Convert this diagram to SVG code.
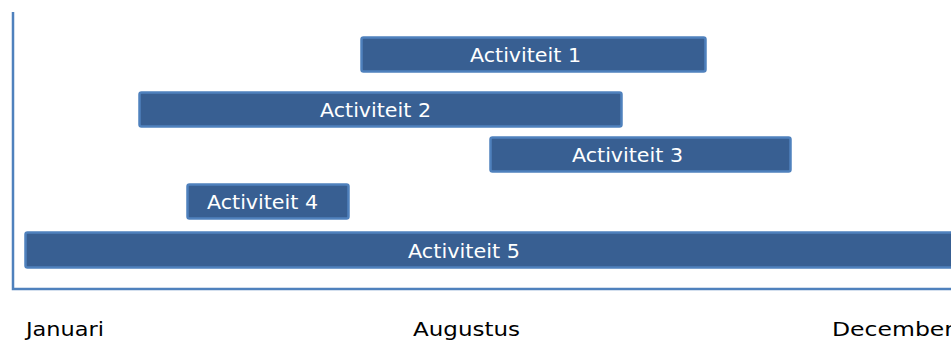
<svg xmlns="http://www.w3.org/2000/svg" width="951" height="341" viewBox="0 0 951 341">
<style>
.bar{fill:#385f92;stroke:#4f81bd;stroke-width:2.5}
.bt{font-family:"DejaVu Sans","Open Sans",sans-serif;font-size:20px;fill:#ffffff}
.ax{font-family:"DejaVu Sans","Open Sans",sans-serif;font-size:20px;fill:#000000}
.axis{fill:none;stroke:#4f81bd;stroke-width:2.5}
</style>
<rect width="951" height="341" fill="#ffffff"/>
<g id="axes">
<path class="axis" d="M13,12 V289 H952"/>
</g>
<g id="a1"><rect class="bar" x="361.5" y="37.5" width="344" height="34" rx="2"/><text class="bt" x="470" y="62" textLength="111" lengthAdjust="spacingAndGlyphs">Activiteit 1</text></g>
<g id="a2"><rect class="bar" x="139.5" y="92.5" width="482" height="34" rx="2"/><text class="bt" x="320" y="117" textLength="111" lengthAdjust="spacingAndGlyphs">Activiteit 2</text></g>
<g id="a3"><rect class="bar" x="490.5" y="137.5" width="300" height="34" rx="2"/><text class="bt" x="572" y="162" textLength="111" lengthAdjust="spacingAndGlyphs">Activiteit 3</text></g>
<g id="a4"><rect class="bar" x="187.5" y="184.5" width="161" height="34" rx="2"/><text class="bt" x="207" y="209" textLength="111" lengthAdjust="spacingAndGlyphs">Activiteit 4</text></g>
<g id="a5"><rect class="bar" x="25.5" y="232.5" width="940" height="35" rx="2"/><text class="bt" x="408" y="258" textLength="112" lengthAdjust="spacingAndGlyphs">Activiteit 5</text></g>
<g id="labels">
<text class="ax" x="26" y="336" textLength="78" lengthAdjust="spacingAndGlyphs">Januari</text>
<text class="ax" x="413" y="336" textLength="107" lengthAdjust="spacingAndGlyphs">Augustus</text>
<text class="ax" x="832" y="336" textLength="122" lengthAdjust="spacingAndGlyphs">December</text>
</g>
</svg>
